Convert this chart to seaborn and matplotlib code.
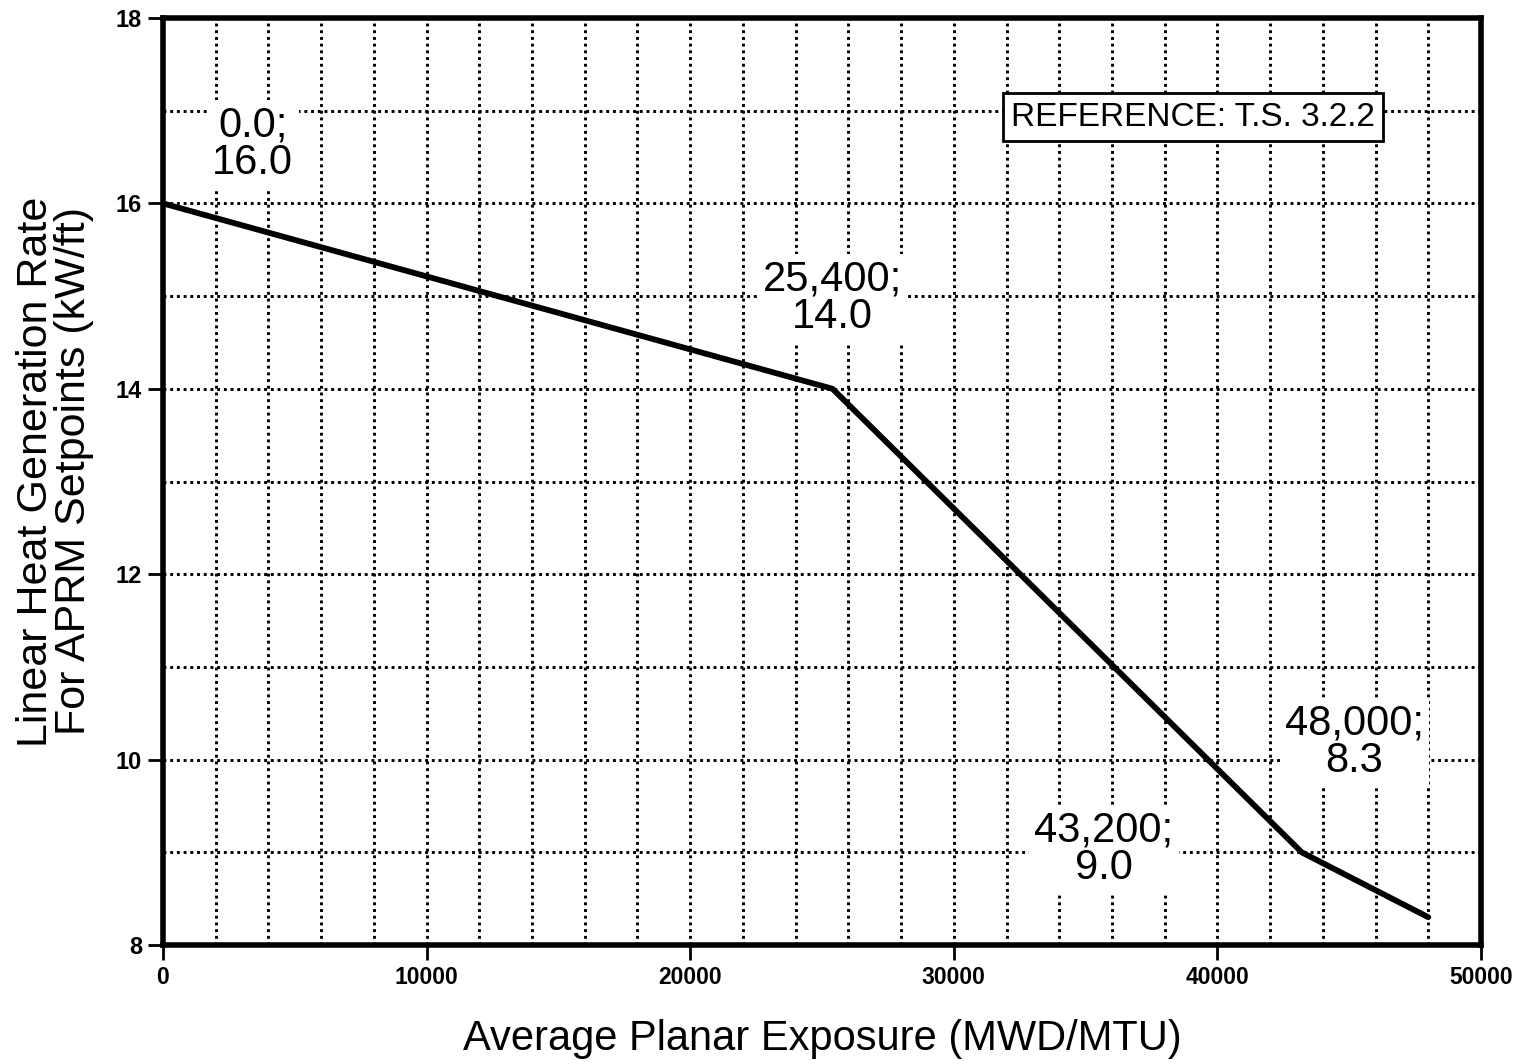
import numpy as np
import pandas as pd
import seaborn as sns
import matplotlib.pyplot as plt

# === data ===
exposure = [0, 25400, 43200, 48000]
lhgr = [16.0, 14.0, 9.0, 8.3]
point_labels = ["0.0;\n16.0", "25,400;\n14.0", "43,200;\n9.0", "48,000;\n8.3"]
label_xy = [(3400, 16.64), (25400, 14.98), (35700, 9.03), (45200, 10.19)]

x_ticks = [0, 10000, 20000, 30000, 40000, 50000]
y_ticks = [8, 10, 12, 14, 16, 18]

sns.set_style("white", {"text.color": "black", "axes.labelcolor": "black",
                        "xtick.color": "black", "ytick.color": "black"})
plt.rcParams["font.family"] = ["Liberation Sans", "DejaVu Sans"]

df = pd.DataFrame({"exposure": exposure, "lhgr": lhgr})

fig = plt.figure(figsize=(15.36, 10.64), dpi=100)
ax = fig.add_axes([0.1061, 0.1118, 0.8581, 0.8713])

sns.lineplot(data=df, x="exposure", y="lhgr", color="black", linewidth=4.2, ax=ax, zorder=4)

ax.set_xlim(0, 50000)
ax.set_ylim(8, 18)
ax.set_xticks(x_ticks)
ax.set_yticks(y_ticks)
ax.set_xticks(np.arange(0, 50001, 2000), minor=True)
ax.set_yticks(np.arange(8, 18.1, 1), minor=True)
ax.set_xticklabels([str(t) for t in x_ticks], fontsize=16.5, fontweight="bold")
ax.set_yticklabels([str(t) for t in y_ticks], fontsize=17, fontweight="bold")
ax.tick_params(which="major", direction="out", length=11, width=2, color="black",
               labelcolor="black", pad=4, bottom=True, left=True)
ax.tick_params(which="minor", length=0)

ax.grid(which="both", color="black", linestyle=(0, (1, 1.3)), linewidth=2.1)
ax.set_axisbelow(True)

for side in ax.spines.values():
    side.set_linewidth(4.0)
    side.set_color("black")
    side.set_zorder(5)

ax.set_xlabel("Average Planar Exposure (MWD/MTU)", fontsize=30, labelpad=22, color="black")
ax.set_ylabel("Linear Heat Generation Rate\nFor APRM Setpoints (kW/ft)", fontsize=31,
              linespacing=0.95, color="black")
ax.yaxis.set_label_coords(-0.052, 0.511)

for txt, (tx, ty) in zip(point_labels, label_xy):
    ax.text(tx, ty, txt, fontsize=30, ha="center", va="center", linespacing=0.93, zorder=3,
            color="black", bbox=dict(facecolor="white", edgecolor="none", pad=4))

ax.text(39070, 16.93, "REFERENCE: T.S. 3.2.2", fontsize=24, ha="center", va="center", zorder=3,
        color="black", bbox=dict(facecolor="white", edgecolor="black", linewidth=2, pad=6))

fig.savefig("out.png", dpi=100)
plt.close(fig)
